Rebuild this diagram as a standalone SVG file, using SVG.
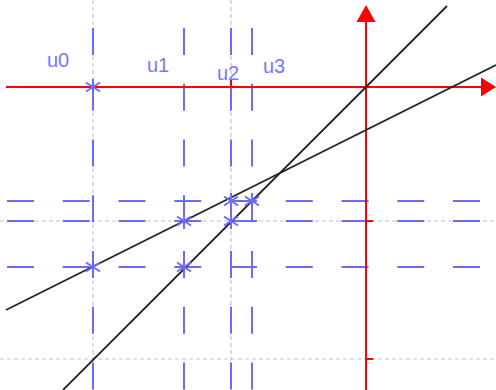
<svg xmlns="http://www.w3.org/2000/svg" width="496" height="390" viewBox="0 0 496 390">
<defs>
<style>
.grid{stroke:#c4c4c4;stroke-width:1.2;stroke-dasharray:4 3;fill:none}
.axis{stroke:#ff0000;stroke-width:2;fill:none}
.guide{stroke:#6b6bff;stroke-width:2;stroke-dasharray:27 28.75;fill:none}
.curve{stroke:#222;stroke-width:1.8;fill:none}
.star{stroke:#6b6bff;stroke-width:2;fill:none}
.lbl{font-family:"Liberation Sans",Arial,sans-serif;font-size:20px;fill:#7777ff}
</style>
<g id="st"><path d="M0,-8V8M-7,-4.5L7,4.5M-7,4.5L7,-4.5"/></g>
</defs>
<rect width="496" height="390" fill="#fff"/>
<g id="grid">
<line class="grid" x1="93" y1="0" x2="93" y2="390"/>
<line class="grid" x1="231" y1="0" x2="231" y2="390"/>
<line class="grid" x1="0" y1="221" x2="496" y2="221"/>
<line class="grid" x1="0" y1="359" x2="496" y2="359"/>
</g>
<g id="guides">
<line class="guide" x1="93" y1="28" x2="93" y2="392"/>
<line class="guide" x1="184" y1="28" x2="184" y2="392"/>
<line class="guide" x1="231" y1="28" x2="231" y2="392"/>
<line class="guide" x1="252" y1="28" x2="252" y2="392"/>
<line class="guide" x1="7" y1="201" x2="481" y2="201"/>
<line class="guide" x1="7" y1="221" x2="481" y2="221"/>
<line class="guide" x1="7" y1="267" x2="481" y2="267"/>
</g>
<g id="axes">
<line class="axis" x1="6" y1="87" x2="482" y2="87"/>
<line class="axis" x1="366" y1="390" x2="366" y2="21"/>
<polygon points="496,87 481,77.5 481,96.5" fill="#ff0000"/>
<polygon points="366,5 356.5,22 375.5,22" fill="#ff0000"/>
<path class="axis" d="M93,87V80M231,87V80M366,221H373M366,359H373"/>
</g>
<g id="connectors">
<line class="curve" x1="63" y1="390" x2="447" y2="6"/>
<line class="curve" x1="6" y1="310" x2="496" y2="65"/>
</g>
<g id="points" class="star">
<use href="#st" x="93" y="87"/>
<use href="#st" x="93" y="267"/>
<use href="#st" x="184" y="267"/>
<use href="#st" x="184" y="221"/>
<use href="#st" x="231" y="221"/>
<use href="#st" x="231" y="201"/>
<use href="#st" x="252" y="201"/>
</g>
<g id="labels">
<text class="lbl" x="47" y="67">u0</text>
<text class="lbl" x="147" y="72">u1</text>
<text class="lbl" x="217" y="80">u2</text>
<text class="lbl" x="263" y="73">u3</text>
</g>
</svg>
